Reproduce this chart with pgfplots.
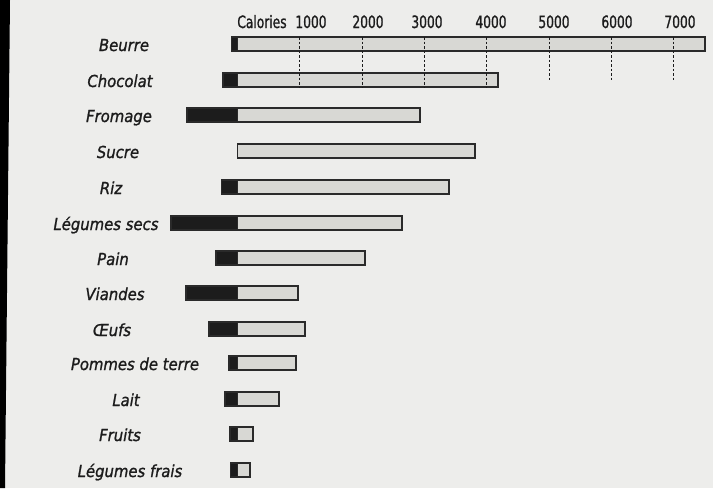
\documentclass[border=0pt]{standalone}
\usepackage{fontspec}
\usepackage{pgfplots}
\pgfplotsset{compat=1.18}
\usepackage{pgfplotstable}
\newfontfamily\labfont{DejaVu Sans Condensed}[FakeBold=1.2]
\newfontfamily\tickfont{DejaVu Sans Condensed}[FakeStretch=0.8, FakeBold=1]
\definecolor{bg}{HTML}{EDEDEB}
\definecolor{barfill}{HTML}{D8D8D4}
\definecolor{edge}{HTML}{2A2A2A}
\definecolor{ink}{HTML}{1C1C1C}

% y = vertical position of bar centre (pixels from top)
\pgfplotstableread{
y   pos   neg
44  7500  -95
80  4180  -230
115 2930  -810
151 3810  0
187 3390  -255
223 2645  -1070
258 2045  -345
293 975   -825
329 1085  -460
363 935   -135
399 665   -205
434 245   -115
470 200   -110
}\datatable

\newcommand{\PX}[1]{{((#1)-237.5)/0.0623}}

\begin{document}
\begin{tikzpicture}
\fill[bg] (0,0) rectangle (713pt,488pt);
\fill[black] (0,488pt) -- (10pt,488pt) -- (5pt,0) -- (0,0) -- cycle;
\begin{axis}[
  at={(0,0)}, anchor=south west,
  width=713pt, height=488pt, scale only axis,
  xmin=-3812.2, xmax=7632.4,
  ymin=0, ymax=488, y dir=reverse,
  axis lines=none,
  clip=false,
]
\addplot[xbar, bar width=14pt, bar shift=0pt, fill=barfill, draw=edge, line width=1.7pt] table[x=pos, y=y] {\datatable};
\addplot[xbar, bar width=14pt, bar shift=0pt, fill=ink, draw=edge, line width=1.7pt] table[x=neg, y=y] {\datatable};

% dashed grid lines
\addplot[draw=ink, line width=0.8pt, dash pattern=on 2.5pt off 2pt, mark=none] coordinates {(1000,37) (1000,88)};
\addplot[draw=ink, line width=0.8pt, dash pattern=on 2.5pt off 2pt, mark=none] coordinates {(2000,37) (2000,88)};
\addplot[draw=ink, line width=0.8pt, dash pattern=on 2.5pt off 2pt, mark=none] coordinates {(3000,37) (3000,88)};
\addplot[draw=ink, line width=0.8pt, dash pattern=on 2.5pt off 2pt, mark=none] coordinates {(4000,37) (4000,88)};
\addplot[draw=ink, line width=0.8pt, dash pattern=on 2.5pt off 2pt, mark=none] coordinates {(5000,37) (5000,80)};
\addplot[draw=ink, line width=0.8pt, dash pattern=on 2.5pt off 2pt, mark=none] coordinates {(6000,37) (6000,80)};
\addplot[draw=ink, line width=0.8pt, dash pattern=on 2.5pt off 2pt, mark=none] coordinates {(7000,37) (7000,80)};

% top scale labels
\begin{scope}[every node/.style={anchor=base, inner sep=0pt, text=ink, font=\tickfont\fontsize{17}{17}\selectfont}]
\node at (axis cs:\PX{262},28) {Calories};
\node at (axis cs:\PX{311},28) {1000};
\node at (axis cs:\PX{368},28) {2000};
\node at (axis cs:\PX{427},28) {3000};
\node at (axis cs:\PX{491},28) {4000};
\node at (axis cs:\PX{554},28) {5000};
\node at (axis cs:\PX{617},28) {6000};
\node at (axis cs:\PX{680},28) {7000};
\end{scope}

% category labels
\begin{scope}[every node/.style={anchor=base, inner sep=0pt, text=ink, font=\labfont\itshape\fontsize{16.5}{16.5}\selectfont}]
\node at (axis cs:\PX{124},51) {Beurre};
\node at (axis cs:\PX{120},87) {Chocolat};
\node at (axis cs:\PX{119},122) {Fromage};
\node at (axis cs:\PX{118},158) {Sucre};
\node at (axis cs:\PX{111},194) {Riz};
\node at (axis cs:\PX{106},230) {Légumes secs};
\node at (axis cs:\PX{113},265) {Pain};
\node at (axis cs:\PX{115},300) {Viandes};
\node at (axis cs:\PX{112},336) {Œufs};
\node at (axis cs:\PX{135},370) {Pommes de terre};
\node at (axis cs:\PX{126},406) {Lait};
\node at (axis cs:\PX{120},441) {Fruits};
\node at (axis cs:\PX{130},477) {Légumes frais};
\end{scope}
\end{axis}
\end{tikzpicture}
\end{document}
